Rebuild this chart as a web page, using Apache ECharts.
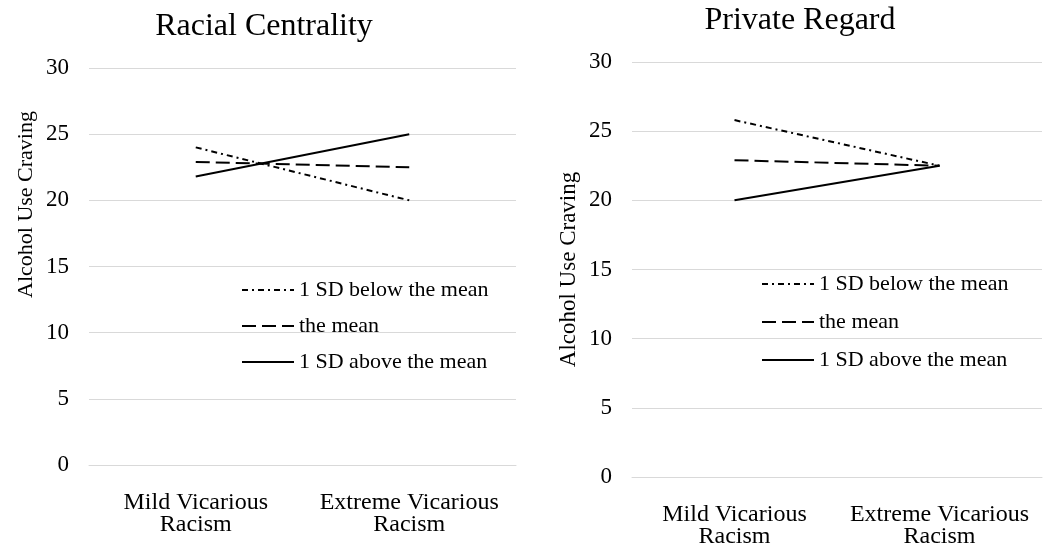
<!DOCTYPE html>
<html>
<head>
<meta charset="utf-8">
<script src="https://cdn.jsdelivr.net/npm/echarts@6/dist/echarts.min.js"></script>
<style>
  html, body { margin: 0; padding: 0; background: #fff; }
  #chart { width: 1050px; height: 549px; }
</style>
</head>
<body>
<div id="chart"></div>
<script>
  var categories = ['Mild Vicarious\nRacism', 'Extreme Vicarious\nRacism'];
  var seriesNames = ['1 SD below the mean', 'the mean', '1 SD above the mean'];
  var yTicks = [0, 5, 10, 15, 20, 25, 30];

  // Racial Centrality
  var centralityBelow = [24.0, 20.0];
  var centralityMean = [22.9, 22.5];
  var centralityAbove = [21.8, 25.0];

  // Private Regard
  var regardBelow = [25.8, 22.5];
  var regardMean = [22.9, 22.5];
  var regardAbove = [20.0, 22.5];

  var font = 'Liberation Serif';
  var dashTypes = [[6, 4, 2, 4], [14, 6], 'solid'];

  function makeSeries(name, data, idx, typeIdx) {
    return {
      name: name,
      type: 'line',
      xAxisIndex: idx,
      yAxisIndex: idx,
      symbol: 'none',
      data: data,
      lineStyle: { color: '#000', width: 2, type: dashTypes[typeIdx] },
      itemStyle: { color: '#000' }
    };
  }

  function xAxisOf(idx) {
    return {
      type: 'category',
      gridIndex: idx,
      data: categories,
      axisLine: { show: true, lineStyle: { color: '#d9d9d9', width: 1 } },
      axisTick: { show: false },
      axisLabel: { interval: 0, color: '#000', fontFamily: font, fontSize: 24, lineHeight: 22, margin: 27 }
    };
  }

  function yAxisOf(idx, pad, size) {
    return {
      type: 'value',
      gridIndex: idx,
      min: yTicks[0],
      max: yTicks[yTicks.length - 1],
      interval: 5,
      name: 'Alcohol Use Craving',
      nameLocation: 'middle',
      nameGap: 52,
      nameTextStyle: { color: '#000', fontFamily: font, fontSize: size, padding: pad },
      axisLine: { show: false },
      axisTick: { show: false },
      splitLine: { lineStyle: { color: '#d9d9d9', width: 1 } },
      axisLabel: { color: '#000', fontFamily: font, fontSize: 23, margin: 20 }
    };
  }

  function legendOf(left, top, gap) {
    return {
      data: seriesNames,
      orient: 'vertical',
      left: left,
      top: top,
      itemWidth: 52,
      itemHeight: 14,
      itemGap: gap,
      itemStyle: { color: 'transparent', borderColor: 'transparent', borderWidth: 0 },
      textStyle: { color: '#000', fontFamily: font, fontSize: 22 },
      selectedMode: false
    };
  }

  var option = {
    backgroundColor: '#fff',
    animation: false,
    title: [
      { text: 'Racial Centrality', left: 259, top: 6, textAlign: 'center',
        textStyle: { color: '#000', fontFamily: font, fontSize: 32, fontWeight: 'normal' } },
      { text: 'Private Regard', left: 795, top: 0, textAlign: 'center',
        textStyle: { color: '#000', fontFamily: font, fontSize: 32, fontWeight: 'normal' } }
    ],
    legend: [legendOf(236, 274, 14), legendOf(756, 268, 16)],
    grid: [
      { left: 89, right: 534, top: 68, bottom: 84 },
      { left: 632, right: 8, top: 62, bottom: 72 }
    ],
    xAxis: [xAxisOf(0), xAxisOf(1)],
    yAxis: [yAxisOf(0, [0, 0, 0, 124], 22), yAxisOf(1, [0, 0, 0, 0], 23)],
    series: [
      makeSeries(seriesNames[0], centralityBelow, 0, 0),
      makeSeries(seriesNames[1], centralityMean, 0, 1),
      makeSeries(seriesNames[2], centralityAbove, 0, 2),
      makeSeries(seriesNames[0], regardBelow, 1, 0),
      makeSeries(seriesNames[1], regardMean, 1, 1),
      makeSeries(seriesNames[2], regardAbove, 1, 2)
    ]
  };

  var chart = echarts.init(document.getElementById('chart'));
  chart.setOption(option);
</script>
</body>
</html>
